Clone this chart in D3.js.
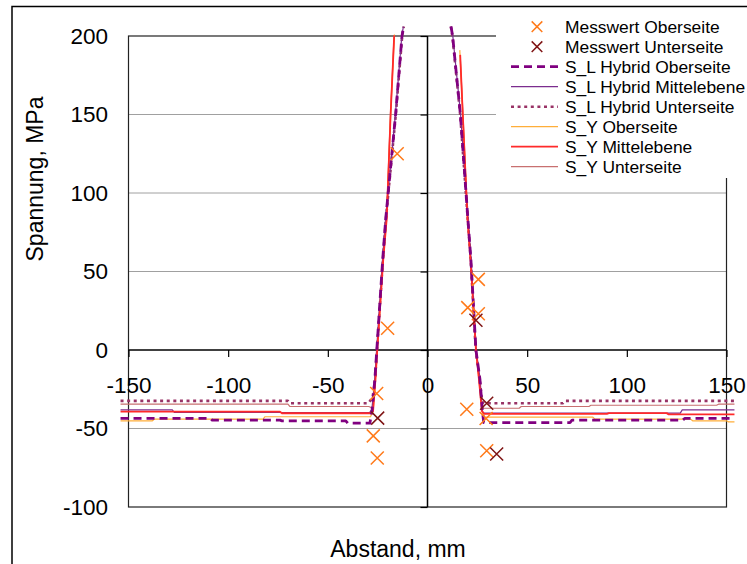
<!DOCTYPE html>
<html><head><meta charset="utf-8">
<script src="https://cdn.jsdelivr.net/npm/d3@7"></script>
<style>body{margin:0;background:#fff}svg{display:block}text{font-family:"Liberation Sans",Arial,sans-serif;fill:#000}</style>
</head><body><svg id="c" width="747" height="564"></svg>
<script>
const xTicks = [-150,-100,-50,0,50,100,150];
const yTicks = [-100,-50,0,50,100,150,200];

const slOberX = [-154,-109,-108,-74,-73,-41,-40,-28.9,-27.8,-26.4,-22.5,-21,-16,-12.8,-12,null,11.8,12.6,16.5,20.3,21.8,24.3,26.3,27.5,28.2,71.5,72.5,128,129,154];
const slOberY = [-43.6,-43.6,-44.7,-44.7,-45.1,-45.1,-46.6,-46.6,-38,-18.6,57,83,150,200,206,null,206,200,150,83,57,0,-18.6,-38,-46.2,-46.2,-44.7,-44.7,-43.6,-43.6];
const slMitX = [-154,-128,-127,-29,-27.9,-26.5,-22.6,-21.1,-16.1,-12.9,-12.1,null,11.9,12.7,16.6,20.4,21.9,24.4,26.4,27.4,28,126.8,127.8,154];
const slMitY = [-38.1,-38.1,-39.8,-39.8,-38,-18.6,57,83,150,200,206,null,206,200,150,83,57,0,-18.6,-38,-40.2,-40.2,-38.1,-38.1];
const slUntX = [-154,-70,-69,-29.6,-27.5,-26.3,-22.4,-20.9,-15.9,-12.7,-11.9,null,11.7,12.5,16.4,20.2,21.7,24.2,26.2,27.4,28.5,68,69,154];
const slUntY = [-32.4,-32.4,-33.9,-33.9,-30,-18.6,57,83,150,200,206,null,206,200,150,83,57,0,-18.6,-33,-33.9,-33.9,-32.4,-32.4];
const syOberX = [-154,-138,-137,-82.5,-81.5,-28.6,-27.3,-26.1,-25.2,-22.2,-20.5,-18.5,-16.6,null,16.2,17.7,20.1,21.6,24.3,25.8,27.3,28.6,83,84,132,133,150,151,154];
const syOberY = [-45.1,-45.1,-44,-44,-42.5,-42.5,-39,-18.6,0,57.7,83,150,201,null,191,150,83,57,0,-18.6,-39,-42.8,-42.8,-44,-44,-45.1,-45.1,-45.8,-45.8];
const syMitX = [-154,-74,-73,-28.4,-27.3,-26.1,-25.2,-22.2,-20.5,-18.5,-16.7,null,16.4,17.7,20.1,21.6,24.3,25.8,27.3,28.5,90,91,120,121,154];
const syMitY = [-39.3,-39.3,-40.3,-40.3,-39,-18.6,0,57.7,83,150,200.4,null,188,150,83,57,0,-18.6,-39,-40.7,-40.7,-40.2,-40.2,-41,-41];
const syUntX = [-154,-70,-69,-29.5,-27.4,-26.2,-25.3,-22.3,-20.6,-18.6,-16.8,null,16.5,17.8,20.2,21.7,24.4,25.9,27.4,28.5,46,47,81,82,145,146,154];
const syUntY = [-34.5,-34.5,-36,-36,-37,-18.6,0,57.7,83,150,199,null,185,150,83,57,0,-18.6,-37,-37.1,-37.1,-36,-36,-35.2,-35.2,-34.5,-34.5];

const oberX = [-15.2,-20,-25.5,-27.2,-25.2,25.5,20.2,25.5,19.7,29.4,29.7];
const oberY = [125,13.8,-27.7,-54.7,-68.8,45,27,23.1,-37.7,-43.6,-64.2];
const unterX = [-25,24.3,29.7,34.7];
const unterY = [-43.4,18.9,-33.9,-66.3];

const legendLabels = ["Messwert Oberseite","Messwert Unterseite","S_L Hybrid Oberseite","S_L Hybrid Mittelebene","S_L Hybrid Unterseite","S_Y Oberseite","S_Y Mittelebene","S_Y Unterseite"];

const svg = d3.select("#c");
svg.append("rect").attr("width",747).attr("height",564).attr("fill","#fff");
svg.append("path").attr("d","M12,570V6.5H760").attr("fill","none").attr("stroke","#000").attr("stroke-width",1.5);

const L=128.5,R=726.5,T=36,B=507;
const x = d3.scaleLinear().domain([-150,150]).range([L,R]);
const y = d3.scaleLinear().domain([-100,200]).range([B,T]);

svg.append("g").selectAll("line").data(yTicks.filter(v=>v!==0&&v!==200&&v!==-100)).join("line")
  .attr("x1",L).attr("x2",R).attr("y1",d=>y(d)).attr("y2",d=>y(d)).attr("stroke","#a0a0a0").attr("stroke-width",1);
svg.append("rect").attr("x",L).attr("y",T).attr("width",R-L).attr("height",B-T).attr("fill","none").attr("stroke","#222").attr("stroke-width",1.2);

const xa = svg.append("g").attr("transform",`translate(0,${y(0)})`)
  .call(d3.axisBottom(x).tickValues(xTicks).tickSize(7).tickPadding(20.5).tickFormat(d=>String(d)));
xa.select(".domain").remove();
xa.append("line").attr("x1",L).attr("x2",R).attr("stroke","#000").attr("stroke-width",1.5);
const ya = svg.append("g").attr("transform",`translate(${x(0)},0)`)
  .call(d3.axisLeft(y).tickValues(yTicks).tickSize(7).tickFormat(""));
ya.select(".domain").remove();
ya.append("line").attr("y1",T).attr("y2",B).attr("stroke","#000").attr("stroke-width",1.5);
const yl = svg.append("g").attr("transform",`translate(${L},0)`)
  .call(d3.axisLeft(y).tickValues(yTicks).tickSize(0).tickPadding(20.5).tickFormat(d=>String(d)));
yl.select(".domain").remove();
svg.selectAll(".tick line").attr("stroke","#000").attr("stroke-width",1.2);
svg.selectAll(".tick text").attr("font-size","22.5px").attr("font-family","Liberation Sans, Arial, sans-serif").attr("fill","#000");

svg.append("text").attr("transform","translate(43,179) rotate(-90)").attr("text-anchor","middle").attr("font-size","23px").text("Spannung, MPa");
svg.append("text").attr("x",398).attr("y",557).attr("text-anchor","middle").attr("font-size","23px").text("Abstand, mm");

const series = [
  {xs:syUntX, ys:syUntY, color:"#c87070", w:1.2, dash:null},
  {xs:syOberX, ys:syOberY, color:"#ffae3a", w:1.2, dash:null},
  {xs:slUntX, ys:slUntY, color:"#993366", w:2.6, dash:"3,3.6"},
  {xs:slMitX, ys:slMitY, color:"#7b2d8e", w:1.2, dash:null},
  {xs:syMitX, ys:syMitY, color:"#ff2a2a", w:1.8, dash:null},
  {xs:slOberX, ys:slOberY, color:"#800080", w:2.8, dash:"8,5"}
];
const line = d3.line().defined(d=>d[1]!==null).x(d=>x(d[0])).y(d=>y(d[1]));
series.forEach(s=>{
  const pts = s.xs.map((v,i)=>[v,s.ys[i]]);
  svg.append("path").datum(pts).attr("d",line).attr("fill","none").attr("stroke",s.color)
    .attr("stroke-width",s.w).attr("stroke-dasharray",s.dash).attr("stroke-linejoin","round");
});

function xMark(h){ return `M${-h},${-h}L${h},${h}M${-h},${h}L${h},${-h}`; }
svg.append("g").selectAll("path").data(oberX.map((v,i)=>[v,oberY[i]])).join("path")
  .attr("transform",d=>`translate(${x(d[0])},${y(d[1])})`).attr("d",xMark(6.5))
  .attr("stroke","#ff7a1a").attr("stroke-width",1.5).attr("fill","none");
svg.append("g").selectAll("path").data(unterX.map((v,i)=>[v,unterY[i]])).join("path")
  .attr("transform",d=>`translate(${x(d[0])},${y(d[1])})`).attr("d",xMark(6.5))
  .attr("stroke","#7f1414").attr("stroke-width",1.5).attr("fill","none");

const lg = svg.append("g");
lg.append("rect").attr("x",496).attr("y",10).attr("width",260).attr("height",168).attr("fill","#fff");
const lStyles = [
  {m:"#ff7a1a"},{m:"#7f1414"},
  {c:"#800080",w:2.8,d:"8,5"},{c:"#7b2d8e",w:1.2,d:null},{c:"#993366",w:2.6,d:"3,3.6"},
  {c:"#ffae3a",w:1.2,d:null},{c:"#ff2a2a",w:1.8,d:null},{c:"#c87070",w:1.2,d:null}
];
legendLabels.forEach((t,i)=>{
  const cy = 26.7 + 20*i;
  const st = lStyles[i];
  if (st.m) {
    lg.append("path").attr("transform",`translate(537,${cy})`).attr("d",xMark(5.3))
      .attr("stroke",st.m).attr("stroke-width",1.5).attr("fill","none");
  } else {
    lg.append("line").attr("x1",511).attr("x2",558).attr("y1",cy).attr("y2",cy)
      .attr("stroke",st.c).attr("stroke-width",st.w).attr("stroke-dasharray",st.d);
  }
  lg.append("text").attr("x",565).attr("y",cy+6.2).attr("font-size","17.4px").text(t);
});
</script></body></html>
